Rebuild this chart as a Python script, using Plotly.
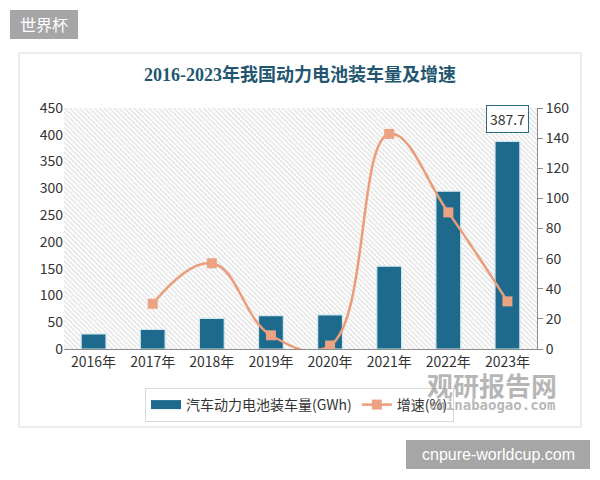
import base64
import plotly.graph_objects as go

years = ["2016年", "2017年", "2018年", "2019年", "2020年", "2021年", "2022年", "2023年"]
capacity = [28.0, 36.4, 57.0, 62.2, 63.6, 154.5, 294.6, 387.7]
growth = [None, 30.0, 56.9, 9.1, 2.3, 142.8, 90.7, 31.6]
left_ticks = [0, 50, 100, 150, 200, 250, 300, 350, 400, 450]
right_ticks = [0, 20, 40, 60, 80, 100, 120, 140, 160]

W, H = 600, 480
L, R, T, B = 64, 537, 108, 349
pw, ph = R - L, B - T


def px(x):
    return (x - L) / pw


def py(y):
    return (B - y) / ph


svg = (
    f"<svg xmlns='http://www.w3.org/2000/svg' width='{pw}' height='{ph}'>"
    "<defs><pattern id='p' width='3.5' height='3.5' patternUnits='userSpaceOnUse' "
    "patternTransform='rotate(-45)'><rect width='3.5' height='3.5' fill='#fbfbfb'/>"
    "<line x1='0' y1='0' x2='0' y2='3.5' stroke='#d2d2d2' stroke-width='1.3'/></pattern></defs>"
    "<rect width='100%' height='100%' fill='url(#p)'/></svg>"
)
hatch = "data:image/svg+xml;base64," + base64.b64encode(svg.encode()).decode()

cjk = "Noto Sans CJK SC, Noto Sans, sans-serif"
bar_color = "#1d6a8d"

fig = go.Figure()
fig.add_trace(go.Bar(
    x=years, y=capacity, name="汽车动力电池装车量(GWh)", showlegend=False,
    marker=dict(color=bar_color, line=dict(color="#cfe6ef", width=1.2)),
    width=0.42, yaxis="y",
))
# legend swatch for the bars (wide rectangle like the reference)
fig.add_trace(go.Scatter(
    x=[None], y=[None], name="汽车动力电池装车量(GWh)", mode="lines",
    line=dict(color=bar_color, width=9), yaxis="y", hoverinfo="skip",
))
fig.add_trace(go.Scatter(
    x=years, y=growth, name="增速(%)", mode="lines+markers",
    line=dict(color="#eb9c78", width=2.5, shape="spline", smoothing=1.2),
    marker=dict(symbol="square", size=10, color="#eba384"),
    connectgaps=False, yaxis="y2",
))

fig.add_annotation(
    x=years[-1], y=capacity[-1], xref="x", yref="y", text="387.7",
    showarrow=False, xanchor="center", yanchor="bottom", yshift=8,
    font=dict(size=14, color="#333333", family=cjk),
    bordercolor="#2c6a86", borderwidth=1, borderpad=3, bgcolor="white",
)

# outer frame
fig.add_shape(type="rect", xref="paper", yref="paper",
              x0=px(19), x1=px(581), y0=py(427), y1=py(53),
              line=dict(color="#d9d9d9", width=1), layer="below")
# top-left tag
fig.add_shape(type="rect", xref="paper", yref="paper",
              x0=px(10), x1=px(78), y0=py(39), y1=py(10),
              fillcolor="#a6a6a6", line=dict(width=0), layer="below")
fig.add_annotation(x=px(44), y=py(24.5), xref="paper", yref="paper", text="世界杯",
                   xanchor="center", yanchor="middle",
                   showarrow=False, font=dict(size=16, color="white", family=cjk))
# bottom-right tag
fig.add_shape(type="rect", xref="paper", yref="paper",
              x0=px(406), x1=px(590), y0=py(469), y1=py(440),
              fillcolor="#a6a6a6", line=dict(width=0), layer="below")
fig.add_annotation(x=px(498), y=py(454.5), xref="paper", yref="paper", text="cnpure-worldcup.com",
                   xanchor="center", yanchor="middle",
                   showarrow=False, font=dict(size=16, color="white", family="Liberation Sans, Arial"))
# watermark
fig.add_annotation(x=px(492), y=py(384), xref="paper", yref="paper", text="<b>观研报告网</b>",
                   xanchor="center", yanchor="middle",
                   showarrow=False, font=dict(size=26, color="rgba(110,110,110,0.5)", family=cjk))
fig.add_annotation(x=px(492), y=py(405), xref="paper", yref="paper", text="<b>chinabaogao.com</b>",
                   xanchor="center", yanchor="middle",
                   showarrow=False, font=dict(size=14, color="rgba(110,110,110,0.5)", family="DejaVu Sans Mono"))

fig.update_layout(
    width=W, height=H,
    margin=dict(l=L, r=W - R, t=T, b=H - B, pad=0),
    paper_bgcolor="white", plot_bgcolor="rgba(0,0,0,0)",
    title=dict(text="<b>2016-2023年我国动力电池装车量及增速</b>", x=0.5, xanchor="center",
               y=1 - 75 / H, yanchor="middle",
               font=dict(size=18, color="#23566f", family="Liberation Serif, Noto Sans CJK SC")),
    images=[dict(source=hatch, xref="paper", yref="paper", x=0, y=1, sizex=1, sizey=1,
                 xanchor="left", yanchor="top", sizing="stretch", layer="below")],
    xaxis=dict(type="category", showgrid=False, showline=True, linecolor="#8c8c8c", linewidth=1,
               ticks="", tickfont=dict(size=14, color="#333333", family=cjk), range=[-0.5, 7.5]),
    yaxis=dict(range=[0, 450], tickvals=left_ticks, showgrid=False, showline=False, zeroline=False,
               ticks="", tickfont=dict(size=14, color="#333333", family=cjk)),
    yaxis2=dict(range=[0, 160], tickvals=right_ticks, overlaying="y", side="right", showgrid=False,
                showline=True, linecolor="#8c8c8c", linewidth=1, zeroline=False,
                ticks="outside", ticklen=5, tickcolor="#8c8c8c",
                tickfont=dict(size=14, color="#333333", family=cjk)),
    legend=dict(orientation="h", x=px(145), y=py(388), xanchor="left", yanchor="top",
                bordercolor="#d9d9d9", borderwidth=1, bgcolor="rgba(255,255,255,0.85)",
                font=dict(size=14, color="#333333", family=cjk), itemwidth=30,
                tracegroupgap=0),
    bargap=0.5,
    showlegend=True,
)

fig.write_html("out.html")
